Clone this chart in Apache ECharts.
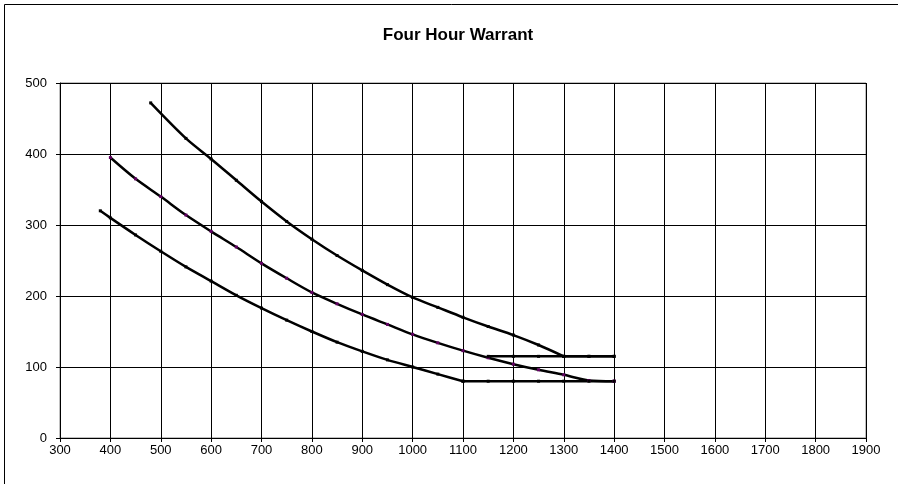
<!DOCTYPE html>
<html>
<head>
<meta charset="utf-8">
<title>Four Hour Warrant</title>
<script src="https://cdn.jsdelivr.net/npm/echarts@6/dist/echarts.min.js"></script>
<style>
  html, body { margin: 0; padding: 0; background: #fff; }
  #chart { width: 898px; height: 484px; }
</style>
</head>
<body>
<div id="chart"></div>
<script>
// Top curve (2+ lanes / 2+ lanes), flat from 1300
const topX = [480, 550, 600, 650, 700, 750, 800, 850, 900, 950, 1000, 1050, 1100, 1150, 1200, 1250, 1300, 1350, 1400];
const topY = [472, 422, 393, 363, 333, 305, 280, 257, 236, 216, 198, 184, 170, 157, 145, 131, 115, 115, 115];

// Middle curve (2+ lanes / 1 lane), flat from 1350
const midX = [400, 450, 500, 550, 600, 650, 700, 750, 800, 850, 900, 950, 1000, 1050, 1100, 1150, 1200, 1250, 1300, 1350, 1400];
const midY = [395, 365, 340, 314, 291, 269, 246, 225, 205, 189, 174, 160, 146, 134, 123, 113, 104, 96, 89, 81, 80];

// Lower curve (1 lane / 1 lane), flat from 1100
const lowX = [380, 400, 450, 500, 550, 600, 650, 700, 750, 800, 850, 900, 950, 1000, 1050, 1100, 1150, 1200, 1250, 1300, 1350, 1400];
const lowY = [320, 310, 286, 263, 241, 221, 201, 183, 166, 150, 135, 122, 110, 100, 90, 80, 80, 80, 80, 80, 80, 80];

// Minor street threshold line at 115
const capX = [1150, 1200, 1250, 1300, 1350, 1400];
const capY = [115, 115, 115, 115, 115, 115];

const xTicks = [300, 400, 500, 600, 700, 800, 900, 1000, 1100, 1200, 1300, 1400, 1500, 1600, 1700, 1800, 1900];
const yTicks = [0, 100, 200, 300, 400, 500];

const pairs = (xs, ys) => xs.map((x, i) => [x, ys[i]]);

// index where the flat part of each curve starts
function flatStart(ys) {
    let k = ys.length - 1;
    while (k > 0 && ys[k - 1] === ys[ys.length - 1]) k--;
    return k;
}

function line(name, data, markerColor, smooth) {
    return {
        name: name,
        type: "line",
        data: data,
        smooth: smooth ? 0.3 : false,
        symbol: "rect",
        symbolSize: 3,
        showSymbol: true,
        lineStyle: { color: "#000", width: 2.5 },
        itemStyle: { color: markerColor, borderWidth: 0 },
        emphasis: { disabled: true },
    };
}

// a curve is drawn smooth up to its flat part, then straight
function curve(name, xs, ys, markerColor) {
    const pts = pairs(xs, ys);
    const k = flatStart(ys);
    return [
        line(name, pts.slice(0, k + 1), markerColor, true),
        line(name, pts.slice(k), markerColor, false),
    ];
}

const chart = echarts.init(document.getElementById("chart"));

const options = {
    animation: false,
    textStyle: { fontFamily: "Liberation Sans, Arial, sans-serif" },
    title: {
        text: "Four Hour Warrant",
        left: 453,
        textAlign: "center",
        top: 22,
        textStyle: {
            fontFamily: "Liberation Sans, Arial, sans-serif",
            fontSize: 17,
            fontWeight: "bold",
            color: "#000",
        },
    },
    graphic: [
        {
            type: "rect",
            shape: { x: 4.5, y: 4.5, width: 920, height: 520 },
            style: { fill: "none", stroke: "#000", lineWidth: 1 },
            silent: true,
        },
    ],
    grid: { left: 60, right: 32, top: 83, bottom: 46, show: true, borderColor: "#808080", borderWidth: 1 },
    xAxis: {
        type: "value",
        min: xTicks[0],
        max: xTicks[xTicks.length - 1],
        interval: 100,
        axisLine: { onZero: false, lineStyle: { color: "#000", width: 1 } },
        axisTick: { show: true, length: 4, lineStyle: { color: "#000" } },
        axisLabel: { color: "#000", fontSize: 13, margin: 6, formatter: (v) => String(v) },
        splitLine: { show: true, lineStyle: { color: "#000", width: 1 } },
    },
    yAxis: {
        type: "value",
        min: yTicks[0],
        max: yTicks[yTicks.length - 1],
        interval: 100,
        axisLine: { show: true, lineStyle: { color: "#000", width: 1 } },
        axisTick: { show: true, length: 4, lineStyle: { color: "#000" } },
        axisLabel: { color: "#000", fontSize: 13, margin: 13, formatter: (v) => String(v) },
        splitLine: { show: true, lineStyle: { color: "#000", width: 1 } },
    },
    series: [
        ...curve("Top", topX, topY, "#000"),
        ...curve("Middle", midX, midY, "#600060"),
        ...curve("Lower", lowX, lowY, "#000"),
        line("Threshold", pairs(capX, capY), "#000", false),
    ],
};

chart.setOption(options);
</script>
</body>
</html>
